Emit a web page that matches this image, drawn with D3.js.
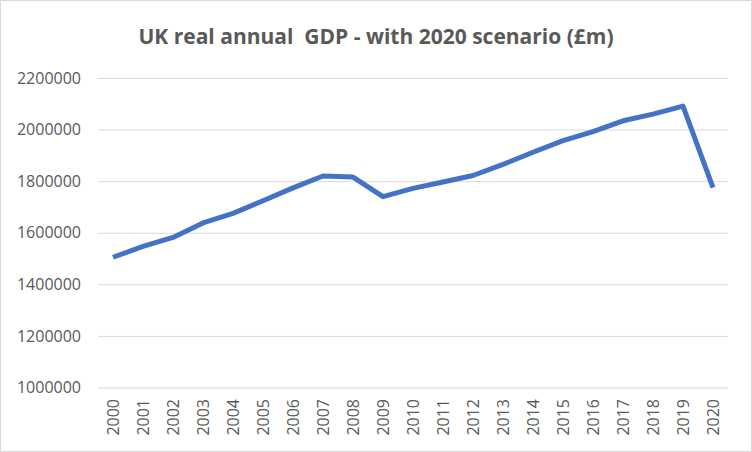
<!DOCTYPE html>
<html>
<head>
<meta charset="utf-8">
<script src="https://d3js.org/d3.v7.min.js"></script>
<style>
  body { margin: 0; background: #fff; }
  text { font-family: "Open Sans", "Noto Sans", sans-serif; fill: #595959; }
</style>
</head>
<body>
<div id="chart"></div>
<script>
// Data
var years = ["2000","2001","2002","2003","2004","2005","2006","2007","2008","2009","2010",
             "2011","2012","2013","2014","2015","2016","2017","2018","2019","2020"];
var gdp = [1505000, 1547000, 1582000, 1638000, 1675000, 1724000, 1774000, 1820000, 1816000, 1740000, 1772000,
           1797000, 1822000, 1865000, 1912000, 1957000, 1992000, 2034000, 2060000, 2091000, 1775000];
var yTicks = [1000000, 1200000, 1400000, 1600000, 1800000, 2000000, 2200000];
var title = "UK real annual  GDP - with 2020 scenario (£m)";

var w = 752;
var h = 452;

//Create SVG element
var svg = d3.select("#chart")
            .append("svg")
            .attr("width", w)
            .attr("height", h);

// outer border
svg.append("rect")
    .attr("x", 0.5)
    .attr("y", 0.5)
    .attr("width", w - 1)
    .attr("height", h - 1)
    .attr("fill", "#fff")
    .attr("stroke", "#d9d9d9");

//Scales
var x = d3.scaleBand()
            .domain(years)
            .range([98, 728]);

var y = d3.scaleLinear()
            .domain([1000000, 2200000])
            .range([387.5, 78]);

// Gridlines + y labels
var yAxis = d3.axisLeft(y)
            .tickValues(yTicks)
            .tickFormat(d3.format("d"))
            .tickSize(-(728 - 98))
            .tickPadding(17);

var gy = svg.append("g")
            .attr("transform", "translate(98,0)")
            .call(yAxis);

gy.select(".domain").remove();
gy.selectAll("line")
    .attr("stroke", "#d9d9d9")
    .attr("stroke-width", 1);
gy.selectAll("text")
    .attr("fill", "#595959")
    .style("font-size", "16px");

// x labels, rotated
var xAxis = d3.axisBottom(x)
            .tickSize(0)
            .tickPadding(0);

var gx = svg.append("g")
            .attr("transform", "translate(0,399)")
            .call(xAxis);

gx.select(".domain").remove();
gx.selectAll("text")
    .attr("fill", "#595959")
    .style("font-size", "16px")
    .attr("text-anchor", "end")
    .attr("dy", null)
    .attr("y", 0)
    .attr("x", 0)
    .attr("transform", "rotate(-90) translate(0,6)");

// The line
var line = d3.line()
            .x(function(d, i){ return x(years[i]) + x.bandwidth() / 2; })
            .y(function(d){ return y(d); });

svg.append("path")
    .datum(gdp)
    .attr("d", line)
    .attr("fill", "none")
    .attr("stroke", "#4472c4")
    .attr("stroke-width", 5)
    .attr("stroke-linejoin", "round")
    .attr("stroke-linecap", "butt");

// Title
svg.append("text")
    .attr("x", 376)
    .attr("y", 44)
    .attr("text-anchor", "middle")
    .style("font-size", "21px")
    .style("font-weight", "bold")
    .style("white-space", "pre")
    .text(title);
</script>
</body>
</html>
